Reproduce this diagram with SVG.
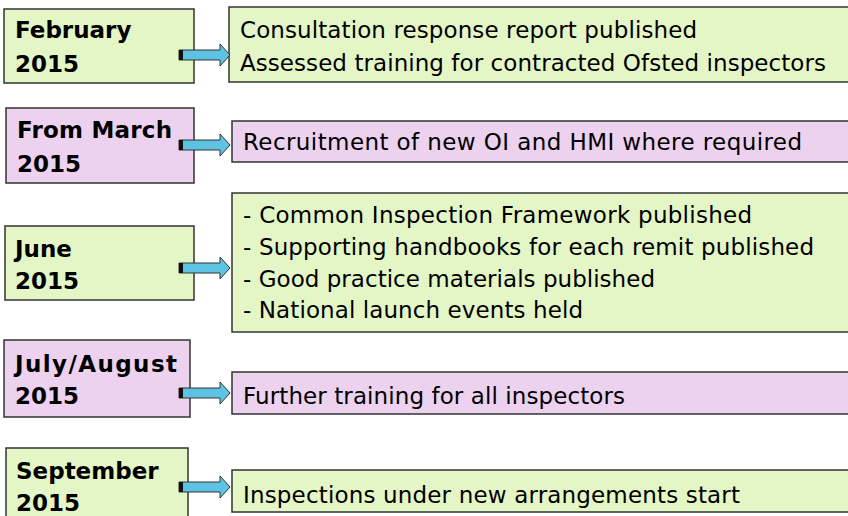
<svg xmlns="http://www.w3.org/2000/svg" width="848" height="516" viewBox="0 0 848 516">
  <style>
    .green { fill: #e4f6c6; stroke: #333333; stroke-width: 1.5; }
    .pink { fill: #ecd2ee; stroke: #333333; stroke-width: 1.5; }
    .date { font-family: "DejaVu Sans", Verdana, sans-serif; font-weight: bold; font-size: 23px; fill: #000000; }
    .item { font-family: "DejaVu Sans", Verdana, sans-serif; font-size: 23px; fill: #000000; }
    .arrow { fill: #5ec3e3; stroke: #333333; stroke-width: 1; }
    .stub { fill: #111111; }
  </style>
  <defs>
    <!-- block arrow pointing right, origin at the left end of the shaft centre line -->
    <g id="blockArrow">
      <path class="arrow" d="M0,-5 H41 V-11 L51,0 L41,11 V5 H0 Z"/>
      <rect class="stub" x="0" y="-5" width="4" height="10"/>
    </g>
  </defs>
  <rect width="848" height="516" fill="#ffffff"/>

  <g id="feb-date">
    <rect class="green" x="4" y="9" width="190" height="74"/>
    <text class="date" x="15" y="38">February</text>
    <text class="date" x="15" y="72">2015</text>
  </g>
  <g id="feb-items">
    <rect class="green" x="229" y="7" width="625" height="75"/>
    <text class="item" x="240" y="38" textLength="457">Consultation response report published</text>
    <text class="item" x="240" y="71" textLength="586">Assessed training for contracted Ofsted inspectors</text>
  </g>

  <g id="mar-date">
    <rect class="pink" x="6" y="108" width="188" height="75"/>
    <text class="date" x="17" y="138" textLength="155">From March</text>
    <text class="date" x="17" y="172">2015</text>
  </g>
  <g id="mar-items">
    <rect class="pink" x="232" y="121" width="622" height="41"/>
    <text class="item" x="243" y="150" textLength="559">Recruitment of new OI and HMI where required</text>
  </g>

  <g id="jun-date">
    <rect class="green" x="5" y="226" width="189" height="74"/>
    <text class="date" x="15" y="257">June</text>
    <text class="date" x="15" y="289">2015</text>
  </g>
  <g id="jun-items">
    <rect class="green" x="232" y="193" width="622" height="139"/>
    <text class="item" x="243" y="223" textLength="509">- Common Inspection Framework published</text>
    <text class="item" x="243" y="255" textLength="571">- Supporting handbooks for each remit published</text>
    <text class="item" x="243" y="287" textLength="412">- Good practice materials published</text>
    <text class="item" x="243" y="318" textLength="340">- National launch events held</text>
  </g>

  <g id="jul-date">
    <rect class="pink" x="4" y="340" width="186" height="77"/>
    <text class="date" x="15" y="372" textLength="162">July/August</text>
    <text class="date" x="15" y="404">2015</text>
  </g>
  <g id="jul-items">
    <rect class="pink" x="232" y="372" width="622" height="42"/>
    <text class="item" x="243" y="404" textLength="382">Further training for all inspectors</text>
  </g>

  <g id="sep-date">
    <rect class="green" x="6" y="448" width="182" height="74"/>
    <text class="date" x="16" y="479">September</text>
    <text class="date" x="16" y="511">2015</text>
  </g>
  <g id="sep-items">
    <rect class="green" x="232" y="470" width="622" height="42"/>
    <text class="item" x="243" y="503" textLength="497">Inspections under new arrangements start</text>
  </g>

  <g id="connectors">
    <use href="#blockArrow" x="179" y="55"/>
    <use href="#blockArrow" x="179" y="145"/>
    <use href="#blockArrow" x="179" y="268"/>
    <use href="#blockArrow" x="179" y="393"/>
    <use href="#blockArrow" x="179" y="487"/>
  </g>
</svg>
